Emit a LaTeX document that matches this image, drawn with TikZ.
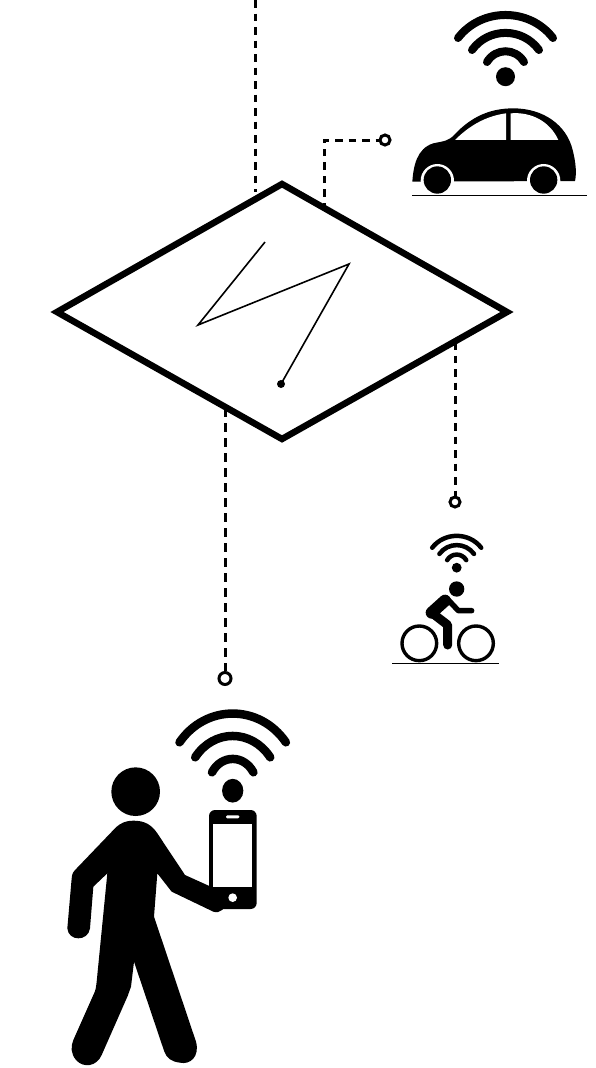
\documentclass[tikz,border=0pt]{standalone}
\tikzset{
  dashline/.style={line width=3pt,dash pattern=on 7.5pt off 6pt},
  dashlong/.style={line width=3pt,dash pattern=on 9pt off 6pt},
  terminal/.style={circle,draw=black,fill=white,line width=3pt,inner sep=0pt},
  ground/.style={line width=1.5pt},
  wifiarc/.style={line width=#1,line cap=round},
}
\newcommand\wifisign[5]{%
 \begin{scope}[shift={(#1,#2)},xscale=#3,yscale=#4]
  \fill (0,0) circle (9.5);
  \draw[wifiarc=#5] (-47.5,-38.7) .. controls (-24,-69.4) and (24,-69.4) .. (47.5,-38.7);
  \draw[wifiarc=#5] (-33.5,-26.7) .. controls (-17,-49.5) and (17,-49.5) .. (33.5,-26.7);
  \draw[wifiarc=#5] (-18.5,-14.7) .. controls (-10,-29) and (10,-29) .. (18.5,-14.7);
 \end{scope}}
\begin{document}
\begin{tikzpicture}[x=1pt,y=-1pt]
\useasboundingbox (0,0) rectangle (595,1068);
% terminals and diamond anchors
\coordinate (top) at (255,0);
\coordinate (dTop) at (255,192);
\coordinate (dCar) at (324,210);
\coordinate (bend) at (324,140);
\coordinate (dBike) at (455,342);
\coordinate (dPerson) at (225,408);
\node[terminal,minimum size=10pt] (tCar) at (385,140) {};
\node[terminal,minimum size=10pt] (tBike) at (455,502) {};
\node[terminal,minimum size=12pt] (tPerson) at (225,678.5) {};
\draw[dashline] (top) -- (dTop);
\draw[dashline] (dCar) -- (bend) -- (tCar);
\draw[dashline] (dBike) -- (tBike);
\draw[dashlong] (dPerson) -- (tPerson);
% diamond
\draw[line width=6.5pt,miter limit=10] (57,312) -- (282,184) -- (507,312) -- (282,439) -- cycle;
\node[circle,fill=black,inner sep=0pt,minimum size=8pt] (zEnd) at (281,384) {};
\draw[line width=1.6pt,line join=miter] (265,242) -- (198,325) -- (349,264) -- (zEnd.center);
% car
\wifisign{505.5}{76.7}{1}{1}{8pt}
\begin{scope}[shift={(400,0)},scale=1/3]
 \fill (37,545) .. controls (40,500) and (50,445) .. (100,430)
   .. controls (130,423) and (145,425) .. (165,402)
   .. controls (215,350) and (270,325) .. (340,325)
   .. controls (430,325) and (500,375) .. (518,450)
   .. controls (528,490) and (530,520) .. (525,543)
   -- (37,545) -- cycle;
 \fill[white] (165,420) .. controls (210,375) and (260,348) .. (318,340) -- (318,420) -- cycle;
 \fill[white] (332,340) .. controls (395,335) and (450,365) .. (475,420) -- (332,420) -- cycle;
 \fill[white] (112,542) circle (50);
 \fill[white] (431,542) circle (50);
 \fill (112,540) circle (41);
 \fill (431,540) circle (41);
 \draw[ground] (37,586) -- (560,586);
\end{scope}
% bike
\wifisign{456.7}{567.7}{0.516}{0.516}{4.5pt}
\begin{scope}[shift={(380,520)},scale=1/3]
 \fill (230,207) circle (23);
 \draw[line width=3.4pt] (118,370) circle (52);
 \draw[line width=3.4pt] (288,370) circle (52);
 \draw[line width=12pt,line cap=round,line join=round] (195,242) -- (155,278);
 \draw[line width=9pt,line cap=round,line join=round] (155,278) -- (203,315) -- (203,375);
 \draw[line width=5.5pt,line cap=round,line join=round] (205,240) -- (235,272) -- (275,272);
 \draw[ground] (37,431) -- (358,431);
\end{scope}
% person
\wifisign{232.7}{790.7}{1.12}{1.25}{8.5pt}
\begin{scope}[shift={(50,700)},scale=1/3]
 \fill (257,275) circle (73);
 \fill (250,362) .. controls (285,362) and (305,375) .. (322,400)
   -- (405,525) -- (478,558) -- (525,600)
   .. controls (530,625) and (510,642) .. (490,635)
   -- (365,575) -- (322,520) -- (312,650)
   -- (438,1025) .. controls (450,1070) and (420,1095) .. (390,1088)
   .. controls (365,1085) and (350,1075) .. (343,1055)
   -- (252,785) -- (243,860) .. controls (240,875) and (238,875) .. (233,888)
   -- (155,1065) .. controls (140,1100) and (100,1105) .. (78,1080)
   .. controls (62,1060) and (62,1040) .. (70,1020)
   -- (130,885) .. controls (138,870) and (138,860) .. (140,845)
   -- (172,520) -- (130,560) -- (120,685)
   .. controls (115,725) and (55,725) .. (52,685)
   -- (65,535) .. controls (66,520) and (70,515) .. (80,505)
   -- (195,385) .. controls (212,368) and (228,362) .. (250,362) -- cycle;
 \fill[rounded corners=6pt] (477,330) rectangle (620,627);
 \fill[white] (490,371) rectangle (606,562);
 \fill[white] (548,593) circle (13);
 \fill[white,rounded corners=1.2pt] (528,346) rectangle (568,355);
\end{scope}
\end{tikzpicture}
\end{document}
